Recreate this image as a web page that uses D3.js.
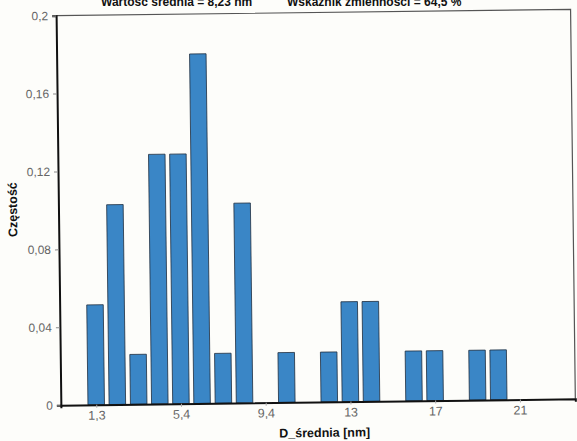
<!DOCTYPE html>
<html>
<head>
<meta charset="utf-8">
<script src="https://cdn.jsdelivr.net/npm/d3@7/dist/d3.min.js"></script>
<style>
  html, body { margin: 0; padding: 0; background: #fdfdfa; }
  svg { display: block; }
</style>
</head>
<body>
<svg id="chart" width="577" height="441"></svg>
<script>
// Histogram of mean particle diameter (D_średnia) – relative frequency per bin
const binCenters = [1.30, 2.31, 3.33, 4.34, 5.35, 6.36, 7.38, 8.39, 9.40, 10.41,
                    11.43, 12.44, 13.45, 14.46, 15.48, 16.49, 17.50, 18.51, 19.53, 20.54];
const frequency  = [0.0513, 0.1026, 0.0256, 0.1282, 0.1282, 0.1795, 0.0256, 0.1026, 0, 0.0256,
                    0, 0.0256, 0.0513, 0.0513, 0, 0.0256, 0.0256, 0, 0.0256, 0.0256];
const binWidth = 1.0125;

const xTickValues = [1.30, 5.35, 9.40, 13.45, 17.50, 21.55];
const xTickLabels = ["1,3", "5,4", "9,4", "13", "17", "21"];
const yTickValues = [0, 0.04, 0.08, 0.12, 0.16, 0.2];
const yTickLabels = ["0", "0,04", "0,08", "0,12", "0,16", "0,2"];

const titleLeft  = "Wartość średnia = 8,23 nm";
const titleRight = "Wskaźnik zmienności = 64,5 %";
const xTitle = "D_średnia [nm]";
const yTitle = "Częstość";

const frame = { left: 58.5, right: 573, top: 12.5, bottom: 402 };
const font = "'Liberation Sans', Arial, sans-serif";

const svg = d3.select("#chart");

// summary line, partly above the top edge of the sheet
svg.append("text")
  .attr("x", 101).attr("y", 5.5)
  .attr("font-family", font).attr("font-weight", "bold").attr("font-size", 12)
  .attr("fill", "#111")
  .text(titleLeft);
svg.append("text")
  .attr("x", 287).attr("y", 5.5)
  .attr("font-family", font).attr("font-weight", "bold").attr("font-size", 12)
  .attr("fill", "#111")
  .text(titleRight);

// the printed sheet sits slightly tilted
const root = svg.append("g").attr("transform", "rotate(-0.7, 317, 210)");

const x = d3.scaleLinear().domain([-0.39, 24.2]).range([frame.left, frame.right]);
const y = d3.scaleLinear().domain([0, 0.2]).range([frame.bottom, frame.top]);

// outer frame (top and right edges)
root.append("path")
  .attr("d", `M${frame.left},${frame.top}H${frame.right}V${frame.bottom}`)
  .attr("fill", "none").attr("stroke", "#555").attr("stroke-width", 1.2);

// bars
const barFrac = 0.78;
root.append("g").selectAll("rect")
  .data(binCenters.map((c, i) => ({ c, v: frequency[i] })).filter(d => d.v > 0))
  .join("rect")
  .attr("x", d => x(d.c - binWidth * barFrac / 2))
  .attr("width", d => x(d.c + binWidth * barFrac / 2) - x(d.c - binWidth * barFrac / 2))
  .attr("y", d => y(d.v))
  .attr("height", d => y(0) - y(d.v))
  .attr("fill", "#3a86c6")
  .attr("stroke", "#1f2e40")
  .attr("stroke-width", 0.8);

// y axis
const yAxis = d3.axisLeft(y)
  .tickValues(yTickValues)
  .tickFormat((d, i) => yTickLabels[i])
  .tickSize(4)
  .tickPadding(4);
const gy = root.append("g").attr("transform", `translate(${frame.left},0)`).call(yAxis);
gy.select(".domain").attr("stroke", "#111").attr("stroke-width", 2);
gy.selectAll(".tick line").attr("stroke", "#888");
gy.selectAll(".tick text").attr("fill", "#666").attr("font-family", font).attr("font-size", 12);

// x axis
const xAxis = d3.axisBottom(x)
  .tickValues(xTickValues)
  .tickFormat((d, i) => xTickLabels[i])
  .tickSize(3)
  .tickPadding(3);
const gx = root.append("g").attr("transform", `translate(0,${frame.bottom})`).call(xAxis);
gx.select(".domain").attr("stroke", "#111").attr("stroke-width", 2);
gx.selectAll(".tick line").attr("stroke", "#aaa");
gx.selectAll(".tick text").attr("fill", "#666").attr("font-family", font).attr("font-size", 12.5);

// axis titles
root.append("text")
  .attr("transform", "translate(17,206) rotate(-90)")
  .attr("text-anchor", "middle")
  .attr("font-family", font).attr("font-weight", "bold").attr("font-size", 12.5)
  .attr("fill", "#111")
  .text(yTitle);

root.append("text")
  .attr("x", 322).attr("y", 437)
  .attr("text-anchor", "middle")
  .attr("font-family", font).attr("font-weight", "bold").attr("font-size", 12.5)
  .attr("fill", "#111")
  .text(xTitle);
</script>
</body>
</html>
